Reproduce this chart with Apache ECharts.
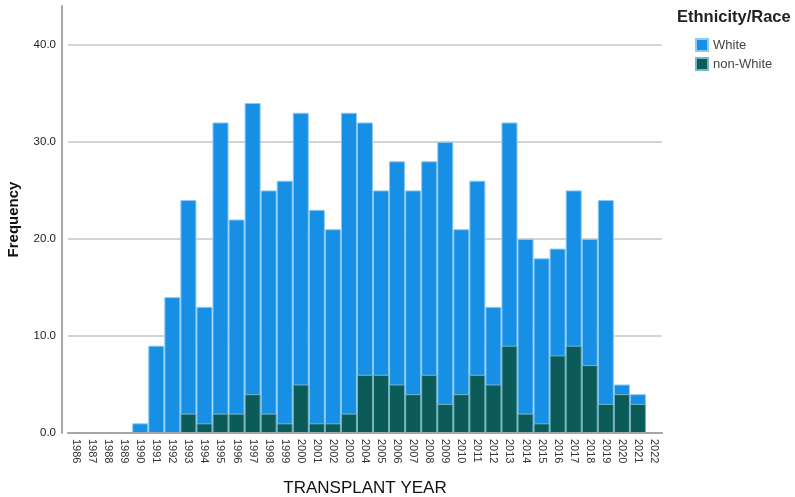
<!DOCTYPE html>
<html>
<head>
<meta charset="utf-8">
<script src="https://cdn.jsdelivr.net/npm/echarts@6/dist/echarts.min.js"></script>
<style>html,body{margin:0;padding:0;background:#fff}#c{width:795px;height:497px}</style>
</head>
<body>
<div id="c"></div>
<script>
const years = ['1986','1987','1988','1989','1990','1991','1992','1993','1994','1995','1996','1997','1998','1999','2000','2001','2002','2003','2004','2005','2006','2007','2008','2009','2010','2011','2012','2013','2014','2015','2016','2017','2018','2019','2020','2021','2022'];
const white = [0,0,0,0,1,9,14,24,13,32,22,34,25,26,33,23,21,33,32,25,28,25,28,30,21,26,13,32,20,18,19,25,20,24,5,4,0];
const nonWhite = [0,0,0,0,0,0,0,2,1,2,2,4,2,1,5,1,1,2,6,6,5,4,6,3,4,6,5,9,2,1,8,9,7,3,4,3,0];
const yTicks = [0,10,20,30,40];

const font = 'Arial, "Liberation Sans", sans-serif';
const chart = echarts.init(document.getElementById('c'), null, {renderer:'canvas'});
chart.setOption({
  animation: false,
  textStyle: {fontFamily: font},
  title: {
    text: 'Ethnicity/Race', left: 677, top: 9, padding: 0,
    textStyle: {fontSize: 16.5, fontWeight: 'bold', color: '#222', fontFamily: font}
  },
  legend: {
    orient: 'vertical', left: 695, top: 38, padding: 0, itemWidth: 12, itemHeight: 12, itemGap: 5,
    icon: 'rect',
    textStyle: {fontSize: 13, color: '#444', fontFamily: font},
    data: ['White','non-White']
  },
  grid: {left: 68, right: 133, top: 6, bottom: 64, outerBoundsMode: 'none', containLabel: false},
  xAxis: {
    type: 'category', data: years, z: 5,
    name: 'TRANSPLANT YEAR', nameLocation: 'middle', nameGap: 47,
    nameTextStyle: {fontSize: 17, color: '#111', fontFamily: font},
    axisLine: {lineStyle: {color: '#a6a6a6', width: 2}},
    axisTick: {show: false},
    axisLabel: {rotate: -90, fontSize: 11, color: '#333', margin: 6, interval: 0, fontFamily: font}
  },
  yAxis: {
    type: 'value', min: 0, max: 44, interval: 10, offset: 6,
    name: 'Frequency', nameLocation: 'middle', nameGap: 41,
    nameTextStyle: {fontSize: 15, fontWeight: 'bold', color: '#111', fontFamily: font},
    axisLine: {show: true, lineStyle: {color: '#a6a6a6', width: 2}},
    axisTick: {show: false},
    axisLabel: {fontSize: 11.5, color: '#222', margin: 6, showMaxLabel: false, fontFamily: font,
      formatter: v => yTicks.includes(v) ? v.toFixed(1) : ''},
    splitLine: {show: true, lineStyle: {color: ['#d4d4d4','#d4d4d4','#d4d4d4','#d4d4d4','#d4d4d4','rgba(0,0,0,0)'], width: 2}}
  },
  series: [
    {
      name: 'White', type: 'bar', data: white, barGap: '-100%', barCategoryGap: '0%',
      itemStyle: {color: '#178fe5', borderColor: '#8ccaf2', borderWidth: 1}
    },
    {
      name: 'non-White', type: 'bar', data: nonWhite, barGap: '-100%', barCategoryGap: '0%',
      itemStyle: {color: '#0b5c58', borderColor: '#79b5c6', borderWidth: 1}
    }
  ]
});
</script>
</body>
</html>
